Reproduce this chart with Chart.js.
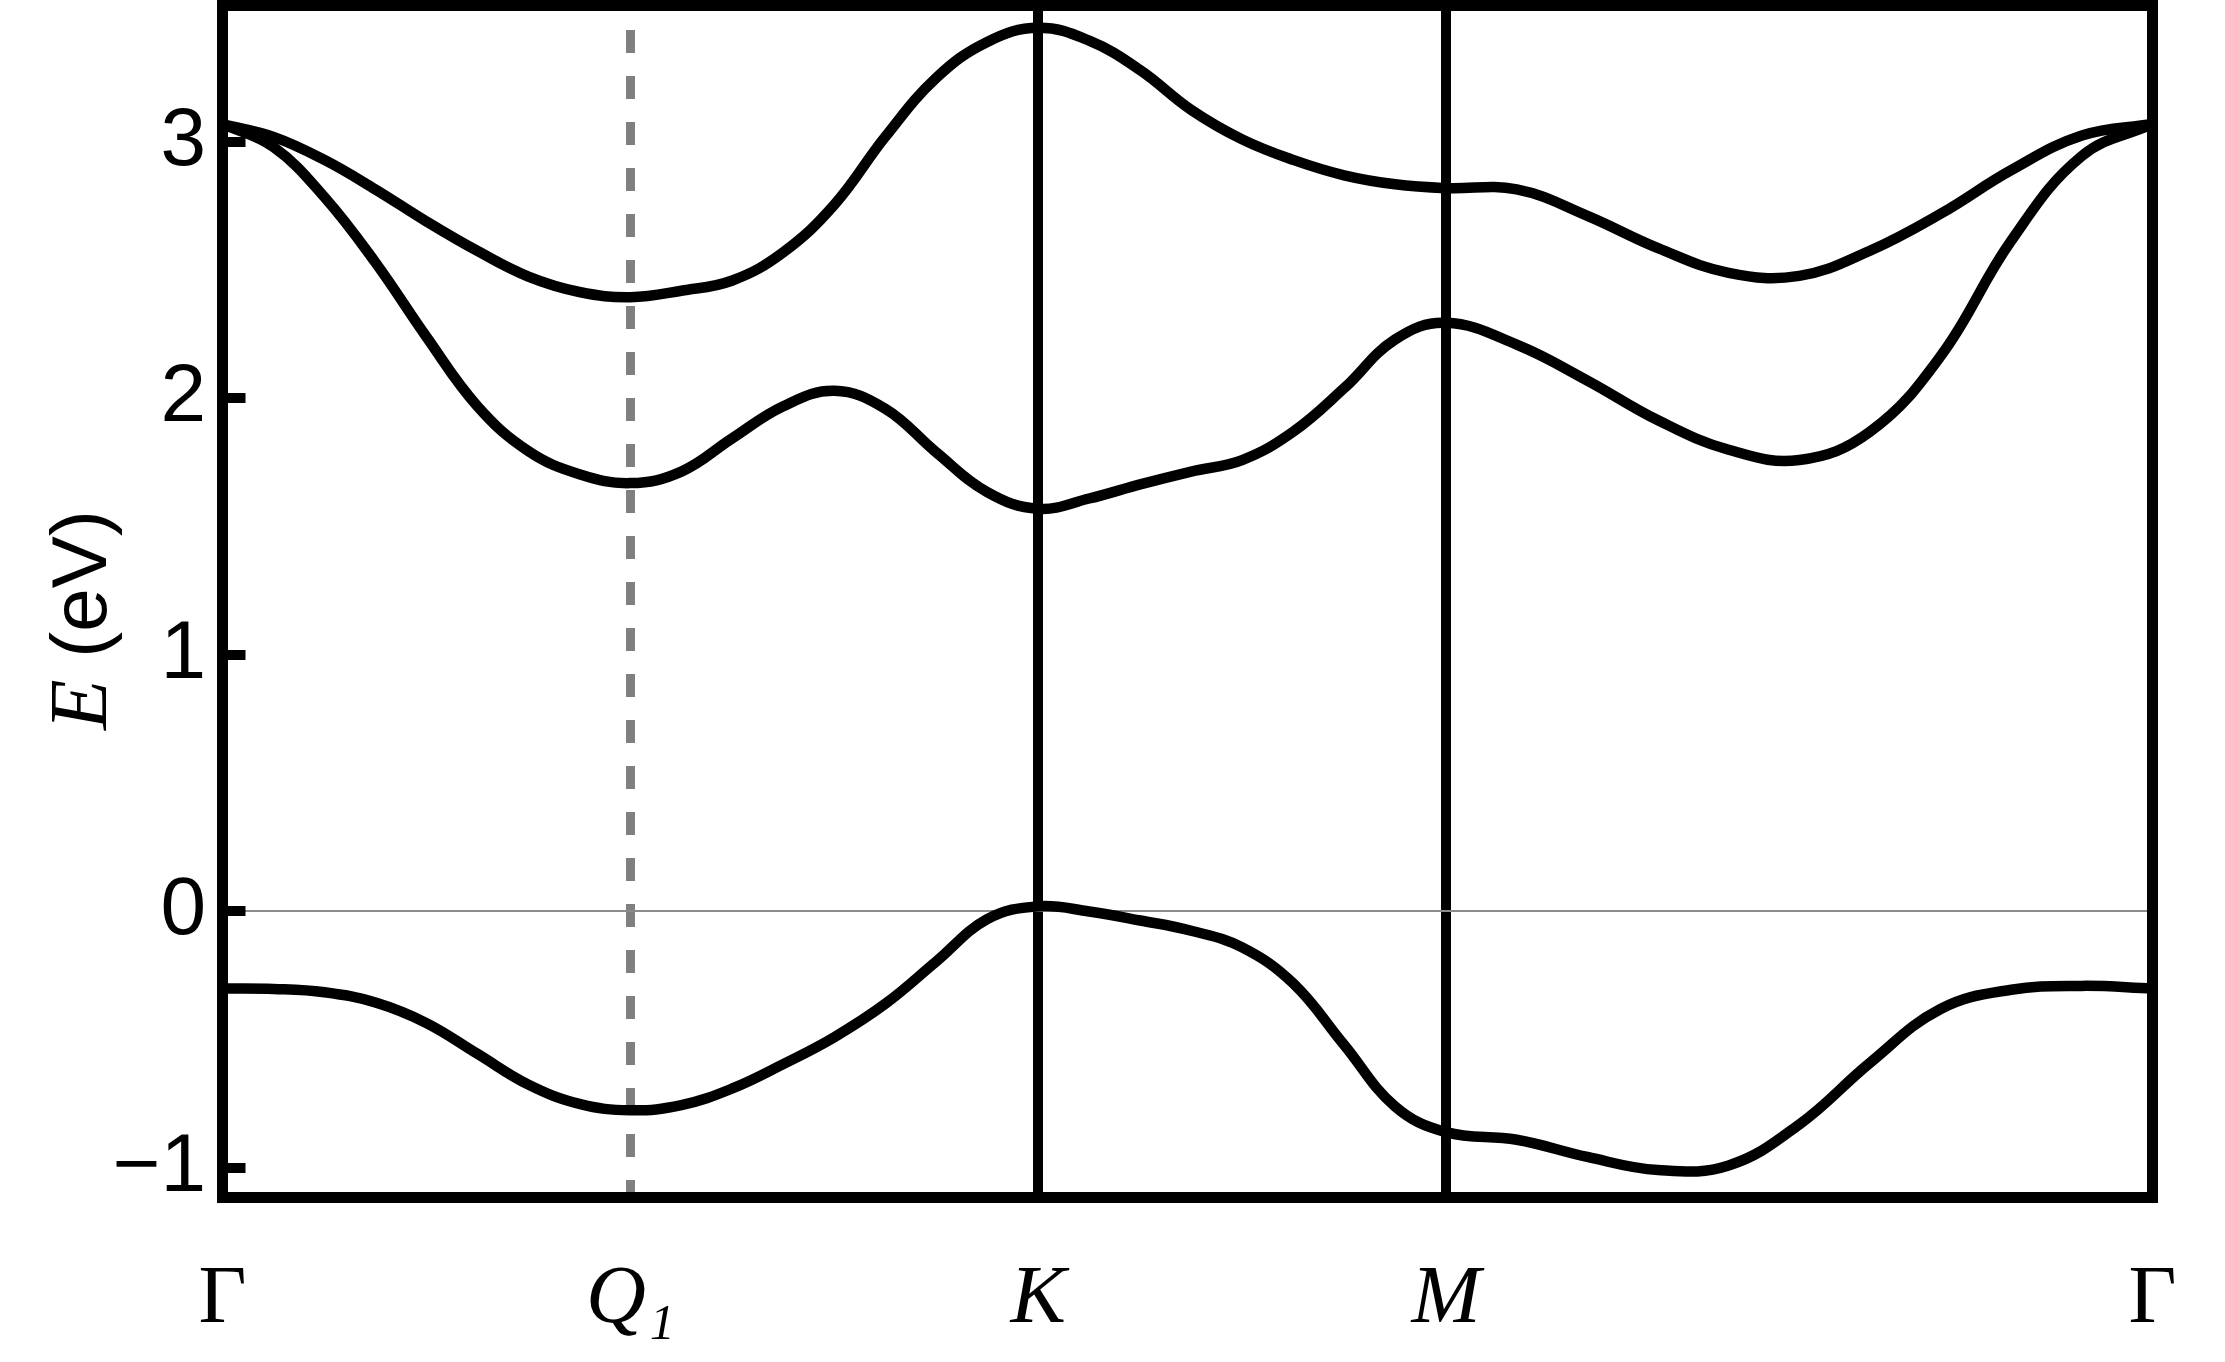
<!DOCTYPE html>
<html>
<head>
<meta charset="utf-8">
<script src="https://cdn.jsdelivr.net/npm/chart.js@4.4.1/dist/chart.umd.min.js"></script>
<style>
html,body{margin:0;padding:0;background:#fff;}
canvas{display:block;}
</style>
</head>
<body>
<canvas id="c" width="2225" height="1362" style="width:2225px;height:1362px"></canvas>
<script>
// k-path: Γ=0, K=1, M=1.5, Γ=1.5+√3/2 (path length units)
const kLabels = ['Γ', 'Q₁', 'K', 'M', 'Γ'];
const kTicks = [0, 0.5, 1, 1.5, 2.366];
const eTicks = [-1, 0, 1, 2, 3];
const eRange = [-1.115, 3.532];

// sampled k positions along the path (Γ→K, K→M, M→Γ)
const kGrid = [
  0, 0.0625, 0.125, 0.1875, 0.25, 0.3125, 0.375, 0.4375, 0.5, 0.5625, 0.625, 0.6875, 0.75, 0.8125, 0.875, 0.9375, 1.0,
  1.0625, 1.125, 1.1875, 1.25, 1.3125, 1.375, 1.4375, 1.5,
  1.5866, 1.6732, 1.7598, 1.8464, 1.933, 2.0196, 2.1062, 2.1928, 2.2794, 2.366
];

// valence band
const eBand1 = [
  -0.30, -0.302, -0.315, -0.355, -0.435, -0.555, -0.675, -0.75, -0.775, -0.755, -0.69, -0.595, -0.49, -0.36, -0.195, -0.03, 0.02,
  0.0, -0.035, -0.075, -0.14, -0.28, -0.52, -0.76, -0.86,
  -0.89, -0.957, -1.008, -0.99, -0.83, -0.59, -0.38, -0.305, -0.29, -0.30
];

// lower conduction band
const eBand3 = [
  3.07, 2.98, 2.785, 2.53, 2.24, 1.97, 1.795, 1.705, 1.67, 1.715, 1.845, 1.97, 2.03, 1.96, 1.79, 1.635, 1.57,
  1.61, 1.665, 1.715, 1.76, 1.87, 2.04, 2.23, 2.295,
  2.21, 2.07, 1.915, 1.80, 1.76, 1.87, 2.165, 2.615, 2.945, 3.07
];

// upper conduction band
const eBand4 = [
  3.07, 3.02, 2.93, 2.815, 2.69, 2.575, 2.475, 2.415, 2.395, 2.42, 2.46, 2.57, 2.755, 3.02, 3.25, 3.39, 3.445,
  3.395, 3.28, 3.125, 3.01, 2.93, 2.87, 2.835, 2.82,
  2.815, 2.712, 2.586, 2.49, 2.478, 2.576, 2.72, 2.89, 3.025, 3.07
];

const pts = es => kGrid.map((k, i) => ({x: k, y: es[i]}));
const kMax = kTicks[kTicks.length - 1];

const bandStyle = {
  borderColor: '#000', borderWidth: 10.5, pointRadius: 0, fill: false,
  tension: 0.4, borderJoinStyle: 'round', xAxisID: 'x', yAxisID: 'y'
};

const noPad = s => { s.paddingTop = 0; s.paddingBottom = 0; s.paddingLeft = 0; s.paddingRight = 0; };

const yTitlePlugin = {
  id: 'yTitle',
  afterDraw(chart) {
    const ctx = chart.ctx;
    ctx.save();
    ctx.translate(106, 730);
    ctx.rotate(-Math.PI / 2);
    ctx.fillStyle = '#000';
    ctx.textBaseline = 'alphabetic';
    ctx.textAlign = 'left';
    ctx.font = 'italic 83px "Liberation Serif"';
    ctx.fillText('E', 0, 0);
    const w = ctx.measureText('E').width;
    ctx.font = '78px "Liberation Sans"';
    ctx.fillText(' (eV)', w, 0);
    ctx.restore();
  }
};

new Chart(document.getElementById('c'), {
  type: 'line',
  data: {
    datasets: [
      Object.assign({label: 'band1', data: pts(eBand1)}, bandStyle),
      Object.assign({label: 'band3', data: pts(eBand3)}, bandStyle),
      Object.assign({label: 'band4', data: pts(eBand4)}, bandStyle)
    ]
  },
  options: {
    responsive: false,
    animation: false,
    devicePixelRatio: 1,
    layout: {padding: 0},
    plugins: {legend: {display: false}, tooltip: {enabled: false}, title: {display: false}},
    scales: {
      x: {
        type: 'linear', position: 'bottom', min: 0, max: kMax,
        afterBuildTicks: s => { s.ticks = kTicks.map(v => ({value: v})); },
        afterFit: s => { s.height = 164.5; noPad(s); },
        ticks: {
          autoSkip: false, maxRotation: 0, minRotation: 0, padding: 52.6, color: '#000',
          callback: (v, i) => kLabels[i],
          font: c => ({family: '"Liberation Serif"', size: 83, style: kLabels[c.index] === 'Γ' ? 'normal' : 'italic'})
        },
        grid: {
          drawTicks: false, color: '#000',
          lineWidth: c => { const i = c.index; if (i === 0 || i === 4) return 11; if (i === 2 || i === 3) return 10; return 0; }
        },
        border: {display: true, width: 11, color: '#000'}
      },
      xq: {
        type: 'linear', position: 'bottom', min: 0, max: kMax,
        afterBuildTicks: s => { s.ticks = [{value: kTicks[1]}]; },
        afterFit: s => { s.height = 0; noPad(s); },
        ticks: {display: false},
        grid: {drawTicks: false, color: '#808080', lineWidth: 9},
        border: {display: false, dash: [23, 23], dashOffset: 21.5}
      },
      xt: {
        type: 'linear', position: 'top', min: 0, max: kMax,
        afterFit: s => { s.height = 5.5; noPad(s); },
        ticks: {display: false},
        grid: {display: false, drawTicks: false, lineWidth: 11},
        border: {display: true, width: 11, color: '#000'}
      },
      y: {
        type: 'linear', position: 'left', min: eRange[0], max: eRange[1],
        afterBuildTicks: s => { s.ticks = eTicks.map(v => ({value: v})); },
        afterFit: s => { s.width = 222.5; noPad(s); },
        ticks: {
          autoSkip: false, padding: 39.5, color: '#000',
          font: {family: '"Liberation Sans"', size: 82},
          callback: v => (v < 0 ? '\u2212' + Math.abs(v) : String(v))
        },
        grid: {
          drawTicks: true, tickLength: -23, tickWidth: 10, tickColor: '#000', color: '#8c8c8c',
          lineWidth: c => (c.tick && c.tick.value === 0 ? 2 : 0)
        },
        border: {display: true, width: 11, color: '#000'}
      },
      yr: {
        type: 'linear', position: 'right', min: eRange[0], max: eRange[1],
        afterFit: s => { s.width = 72.5; noPad(s); },
        ticks: {display: false},
        grid: {display: false, drawTicks: false, lineWidth: 11},
        border: {display: true, width: 11, color: '#000'}
      }
    }
  },
  plugins: [yTitlePlugin]
});
</script>
</body>
</html>
